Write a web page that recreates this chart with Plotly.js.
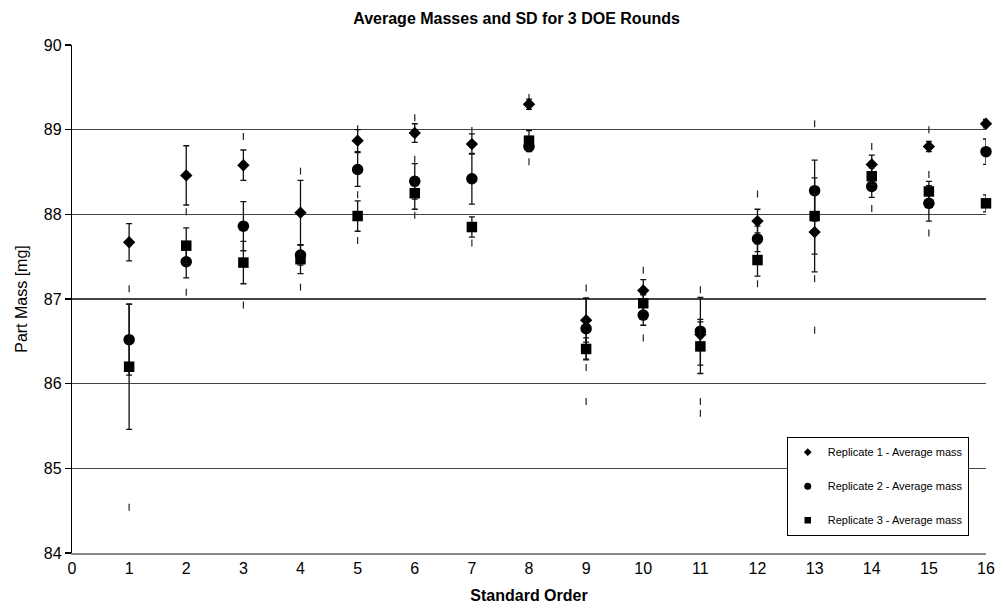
<!DOCTYPE html>
<html>
<head>
<meta charset="utf-8">
<script src="https://cdn.plot.ly/plotly-3.0.1.min.js"></script>
<style>html,body{margin:0;padding:0;background:#fff;}#chart{width:1003px;height:609px;}</style>
</head>
<body>
<div id="chart"></div>
<script>
// Standard order (x categories)
const order = [1,2,3,4,5,6,7,8,9,10,11,12,13,14,15,16];
// Replicate 1 - average mass and SD
const rep1Mean = [87.67, 88.46, 88.58, 88.02, 88.87, 88.96, 88.83, 89.30, 86.75, 87.10, 86.58, 87.92, 87.79, 88.59, 88.80, 89.07];
const rep1SD   = [0.22, 0.35, 0.18, 0.38, 0.13, 0.11, 0.12, 0.06, 0.26, 0.13, 0.15, 0.14, 0.47, 0.11, 0.06, 0.05];
// Replicate 2 - average mass and SD
const rep2Mean = [86.52, 87.44, 87.86, 87.52, 88.53, 88.39, 88.42, 88.80, 86.65, 86.81, 86.62, 87.71, 88.28, 88.33, 88.13, 88.74];
const rep2SD   = [0.42, 0.19, 0.29, 0.12, 0.20, 0.21, 0.30, 0.06, 0.36, 0.12, 0.40, 0.15, 0.36, 0.13, 0.21, 0.15];
// Replicate 3 - average mass and SD
const rep3Mean = [86.20, 87.63, 87.43, 87.47, 87.98, 88.25, 87.85, 88.87, 86.41, 86.95, 86.44, 87.46, 87.98, 88.45, 88.27, 88.13];
const rep3SD   = [0.74, 0.21, 0.25, 0.17, 0.18, 0.19, 0.12, 0.12, 0.13, 0.10, 0.32, 0.19, 0.45, 0.10, 0.12, 0.10];
// Short dashed range marks visible beyond the SD bars
const dashX = [1,1, 2,2, 3,3, 4,4, 5,5,5, 6,6,6, 7,7, 8,8, 9,9,9, 10,10, 11,11,11, 12,12, 13,13,13, 14,14, 15,15,15];
const dashY = [87.12,84.54, 88.03,87.08, 88.92,86.93, 88.51,87.14, 89.01,88.23,87.69, 89.14,88.65,87.99, 88.99,87.66, 89.38,88.62, 87.13,86.19,85.79, 87.34,86.54, 87.11,85.79,85.65, 88.24,87.18, 89.07,87.24,86.63, 88.80,88.07, 89.00,88.47,87.78];
const seriesNames = ['Replicate 1 - Average mass', 'Replicate 2 - Average mass', 'Replicate 3 - Average mass'];
const yTicks = [84,85,86,87,88,89,90];
const xTicks = [0,1,2,3,4,5,6,7,8,9,10,11,12,13,14,15,16];

const font = 'Liberation Sans, Arial, sans-serif';
const symbols = ['diamond','circle','square'];
const sizes = [9.5, 11.5, 10.5];
const means = [rep1Mean, rep2Mean, rep3Mean];
const sds = [rep1SD, rep2SD, rep3SD];

const traces = [];
traces.push({
  x: dashX, y: dashY, type: 'scatter', mode: 'markers', showlegend: false, hoverinfo: 'skip',
  marker: {symbol: 'line-ns', size: 5, color: '#222', line: {color: '#222', width: 1.2}},
  cliponaxis: false
});
for (let i = 0; i < 3; i++) {
  traces.push({
    x: order, y: means[i], type: 'scatter', mode: 'markers', name: seriesNames[i], showlegend: false,
    marker: {symbol: symbols[i], size: sizes[i], color: '#000'},
    error_y: {type: 'data', array: sds[i], visible: true, color: '#111', thickness: 1.3, width: 3},
    cliponaxis: false
  });
}
for (let i = 0; i < 3; i++) {
  traces.push({
    x: [null], y: [null], type: 'scatter', mode: 'markers', name: seriesNames[i],
    legendgroup: 'g' + i, showlegend: true,
    marker: {symbol: symbols[i], size: [6, 7, 6.5][i], color: '#000'}
  });
}

const layout = {
  width: 1003, height: 609,
  margin: {l: 72, r: 17, t: 44.5, b: 55.5},
  paper_bgcolor: '#fff', plot_bgcolor: '#fff',
  font: {family: font, color: '#000'},
  title: {text: '<b>Average Masses and SD for 3 DOE Rounds</b>', font: {size: 16, family: font, color: '#000'},
          xref: 'container', x: 0.515, xanchor: 'center', yref: 'container', y: 0.97, yanchor: 'middle'},
  xaxis: {
    range: [0, 16], tickvals: xTicks, ticktext: xTicks.map(String), showgrid: false, zeroline: false,
    showline: true, linecolor: '#888', linewidth: 2, ticks: '',
    tickfont: {size: 16, family: font, color: '#000'},
    title: {text: '<b>Standard Order</b>', font: {size: 16, family: font, color: '#000'}, standoff: 14}
  },
  yaxis: {
    range: [84, 90], tickvals: yTicks, ticktext: yTicks.map(String), showgrid: true, gridcolor: '#444', gridwidth: 1.4,
    zeroline: false, showline: true, linecolor: '#000', linewidth: 1.2, ticks: 'outside', ticklen: 6, tickcolor: '#000', tickwidth: 1.2,
    tickfont: {size: 16, family: font, color: '#000'},
    title: {text: 'Part Mass [mg]', font: {size: 16, family: font, color: '#000'}, standoff: 12}
  },
  legend: {
    x: 0.782, y: 0.229, xanchor: 'left', yanchor: 'top', bgcolor: '#fff', bordercolor: '#000', borderwidth: 1,
    font: {size: 11, family: font, color: '#000'}, tracegroupgap: 15, itemwidth: 30
  }
};
Plotly.newPlot('chart', traces, layout, {displayModeBar: false, staticPlot: true});
</script>
</body>
</html>
